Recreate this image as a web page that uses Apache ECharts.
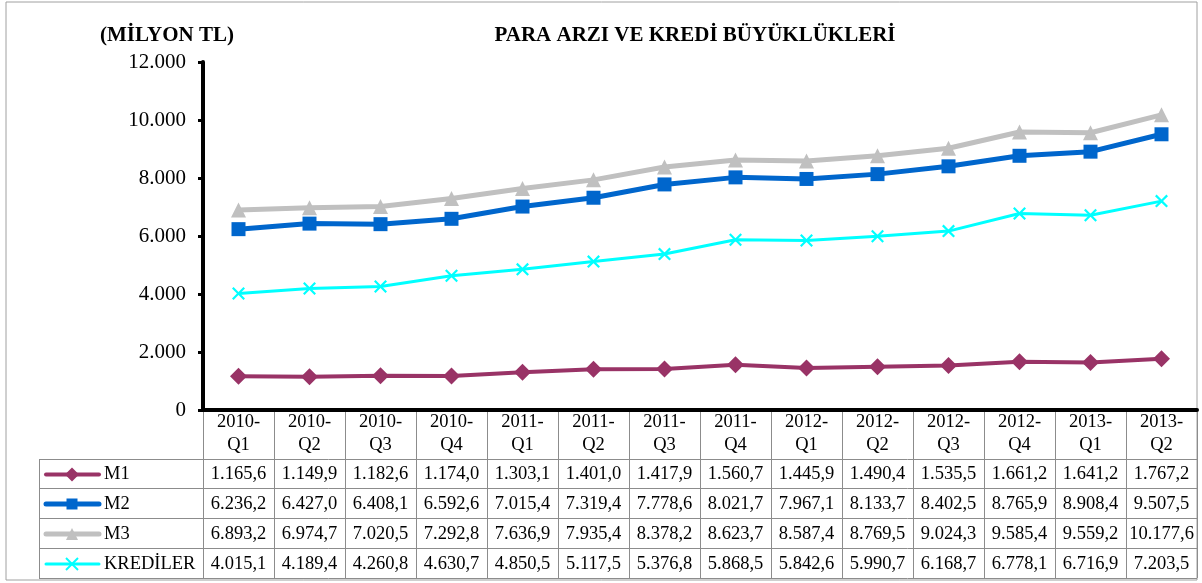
<!DOCTYPE html>
<html>
<head>
<meta charset="utf-8">
<script src="https://cdn.jsdelivr.net/npm/echarts@6/dist/echarts.min.js"></script>
<style>
html, body { margin: 0; padding: 0; background: #fff; }
#chart { width: 1202px; height: 583px; }
</style>
</head>
<body>
<div id="chart"></div>
<script>
var categories = ['2010-Q1', '2010-Q2', '2010-Q3', '2010-Q4', '2011-Q1', '2011-Q2', '2011-Q3', '2011-Q4', '2012-Q1', '2012-Q2', '2012-Q3', '2012-Q4', '2013-Q1', '2013-Q2'];
var m1 = [1165.6, 1149.9, 1182.6, 1174.0, 1303.1, 1401.0, 1417.9, 1560.7, 1445.9, 1490.4, 1535.5, 1661.2, 1641.2, 1767.2];
var m2 = [6236.2, 6427.0, 6408.1, 6592.6, 7015.4, 7319.4, 7778.6, 8021.7, 7967.1, 8133.7, 8402.5, 8765.9, 8908.4, 9507.5];
var m3 = [6893.2, 6974.7, 7020.5, 7292.8, 7636.9, 7935.4, 8378.2, 8623.7, 8587.4, 8769.5, 9024.3, 9585.4, 9559.2, 10177.6];
var krediler = [4015.1, 4189.4, 4260.8, 4630.7, 4850.5, 5117.5, 5376.8, 5868.5, 5842.6, 5990.7, 6168.7, 6778.1, 6716.9, 7203.5];
var yTicks = [0, 2000, 4000, 6000, 8000, 10000, 12000];

var FONT = '"Liberation Serif", "Times New Roman", serif';
var CROSS = 'path://M0,1.2L1.2,0L5,3.8L8.8,0L10,1.2L6.2,5L10,8.8L8.8,10L5,6.2L1.2,10L0,8.8L3.8,5Z';

// turkish number format: 1.165,6
function trNum(v, dec) {
	var s = v.toFixed(dec), parts = s.split('.')
	var int = parts[0].replace(/\B(?=(\d{3})+(?!\d))/g, '.')
	return parts.length > 1 ? int + ',' + parts[1] : int
}

var seriesDefs = [
	{name: 'M1', data: m1, color: '#993366', width: 4, symbol: 'diamond', size: 17},
	{name: 'M2', data: m2, color: '#0066CC', width: 5, symbol: 'rect', size: 14},
	{name: 'M3', data: m3, color: '#C0C0C0', width: 5, symbol: 'triangle', size: 15},
	{name: 'KREDİLER', data: krediler, color: '#00FFFF', width: 3, symbol: CROSS, size: 13},
]

var chart = echarts.init(document.getElementById('chart'))
var gridLeft = 203, gridRight = 1197, gridTop = 62, gridBottom = 410

chart.setOption({
	animation: false,
	title: [
		{text: '(MİLYON TL)', left: 162, top: 20, textAlign: 'center', textStyle: {fontFamily: FONT, fontSize: 21, fontWeight: 'bold', color: '#000'}},
		{text: 'PARA ARZI VE KREDİ BÜYÜKLÜKLERİ', left: 690, top: 20, textAlign: 'center', textStyle: {fontFamily: FONT, fontSize: 21, fontWeight: 'bold', color: '#000'}},
	],
	grid: {left: gridLeft, right: 1202 - gridRight, top: gridTop, bottom: 583 - gridBottom, containLabel: false},
	xAxis: {
		type: 'category', data: categories, boundaryGap: true,
		axisLine: {lineStyle: {color: '#000', width: 4}},
		axisTick: {show: false},
		axisLabel: {fontFamily: FONT, fontSize: 18.5, color: '#000', lineHeight: 23, margin: 1, interval: 0,
			formatter: function(v) { return v.replace('-', '-\n') }},
	},
	yAxis: {
		type: 'value', min: yTicks[0], max: yTicks[yTicks.length - 1], interval: 2000,
		axisLine: {show: true, lineStyle: {color: '#000', width: 4}},
		axisTick: {show: true, length: 5, lineStyle: {color: '#000', width: 3}},
		splitLine: {show: false},
		axisLabel: {fontFamily: FONT, fontSize: 21, color: '#000', margin: 17, formatter: function(v) { return trNum(v, 0) }},
	},
	series: seriesDefs.map(function(s) {
		return {name: s.name, type: 'line', data: s.data, symbol: s.symbol, symbolSize: s.size, showSymbol: true,
			lineStyle: {color: s.color, width: s.width}, itemStyle: {color: s.color}, z: 3}
	}),
})

// data table under the plot
var step = chart.convertToPixel({xAxisIndex: 0}, categories[1]) - chart.convertToPixel({xAxisIndex: 0}, categories[0])
var rowLines = [459, 488, 518, 548, 578], tableLeft = 39, lineColor = '#8c8c8c', tableFont = '18.5px ' + FONT
var graphic = [
	{type: 'rect', shape: {x: 6, y: 2, width: gridRight - 6, height: 578}, style: {fill: 'none', stroke: '#a0a0a0', lineWidth: 1}, silent: true},
]
rowLines.forEach(function(y) {
	graphic.push({type: 'line', shape: {x1: tableLeft, y1: y + 0.5, x2: gridRight, y2: y + 0.5}, style: {stroke: lineColor, lineWidth: 1}})
})
graphic.push({type: 'line', shape: {x1: tableLeft + 0.5, y1: rowLines[0], x2: tableLeft + 0.5, y2: rowLines[4]}, style: {stroke: lineColor, lineWidth: 1}})
for (var k = 0; k <= categories.length; k++) {
	var x = Math.round(gridLeft + k * step) + 0.5
	graphic.push({type: 'line', shape: {x1: x, y1: gridBottom + 2, x2: x, y2: rowLines[4]}, style: {stroke: lineColor, lineWidth: 1}})
}
seriesDefs.forEach(function(s, r) {
	var cy = (rowLines[r] + rowLines[r + 1]) / 2 + 1
	graphic.push({type: 'line', shape: {x1: 46, y1: cy, x2: 99, y2: cy}, style: {stroke: s.color, lineWidth: s.width, lineCap: 'round'}})
	graphic.push({type: 'text', x: 104, y: cy, style: {text: s.name, font: tableFont, fill: '#000', textVerticalAlign: 'middle'}})
	s.data.forEach(function(v, i) {
		var cx = chart.convertToPixel({xAxisIndex: 0}, categories[i])
		graphic.push({type: 'text', x: cx, y: cy, style: {text: trNum(v, 1), font: tableFont, fill: '#000', textAlign: 'center', textVerticalAlign: 'middle'}})
	})
	// legend marker in the first column
	var px = 72, sz = s.size - 3
	if (s.symbol == 'diamond') graphic.push({type: 'polygon', shape: {points: [[px, cy - sz / 2], [px + sz / 2, cy], [px, cy + sz / 2], [px - sz / 2, cy]]}, style: {fill: s.color}})
	else if (s.symbol == 'rect') graphic.push({type: 'rect', shape: {x: px - sz / 2, y: cy - sz / 2, width: sz, height: sz}, style: {fill: s.color}})
	else if (s.symbol == 'triangle') graphic.push({type: 'polygon', shape: {points: [[px, cy - sz / 2], [px + sz / 2, cy + sz / 2], [px - sz / 2, cy + sz / 2]]}, style: {fill: s.color}})
	else {
		graphic.push({type: 'line', shape: {x1: px - 6, y1: cy - 6, x2: px + 6, y2: cy + 6}, style: {stroke: s.color, lineWidth: 2}})
		graphic.push({type: 'line', shape: {x1: px + 6, y1: cy - 6, x2: px - 6, y2: cy + 6}, style: {stroke: s.color, lineWidth: 2}})
	}
})
chart.setOption({graphic: graphic})
</script>
</body>
</html>
